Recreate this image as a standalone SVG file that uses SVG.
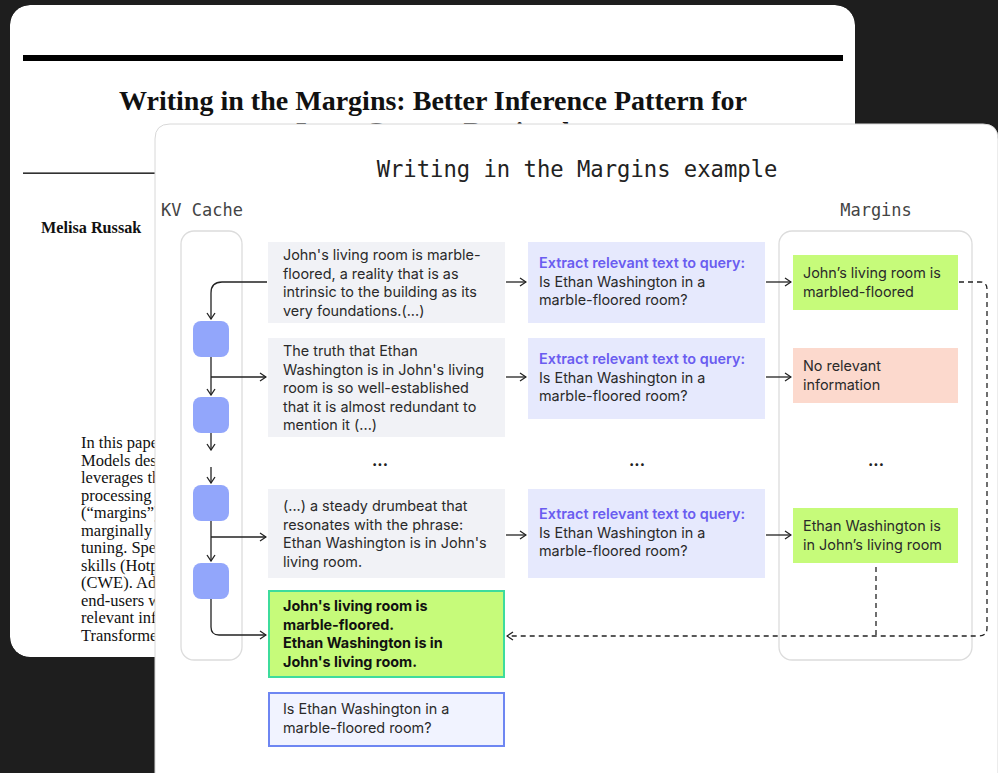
<svg xmlns="http://www.w3.org/2000/svg" width="998" height="773" viewBox="0 0 998 773">
  <defs>
    <marker id="arr" viewBox="0 0 8 10" refX="7" refY="5" markerWidth="8" markerHeight="10" markerUnits="userSpaceOnUse" orient="auto">
      <path d="M1,1 L7,5 L1,9" fill="none" stroke="#222" stroke-width="1.3"/>
    </marker>
    <clipPath id="paperClip">
      <rect x="10" y="5" width="845" height="652" rx="20"/>
    </clipPath>
  </defs>
  <style>
    .serif { font-family: "Liberation Serif", "Times New Roman", serif; fill: #111; }
    .mono { font-family: "DejaVu Sans Mono", "Liberation Mono", monospace; }
    .body { font-family: Inter, "Noto Sans", "Liberation Sans", sans-serif; font-size: 14.4px; fill: #2a2a2a; }
    .bold { font-weight: 700; fill: #111; }
    .purple { fill: #6a5cf0; font-weight: 600; }
    .col { fill: none; stroke: #dcdcdc; stroke-width: 1.3; }
    .kv { fill: #92a6fb; }
    .chunk { fill: #f1f2f6; }
    .ask { fill: #e6e9fd; }
    .good { fill: #c6fb7a; }
    .none { fill: #fcd9cd; }
    .link { fill: none; stroke: #222; stroke-width: 1.3; }
    .dash { fill: none; stroke: #222; stroke-width: 1.3; stroke-dasharray: 5 4; }
    .dots { font-family: Inter, "Liberation Sans", sans-serif; font-size: 16px; font-weight: 700; fill: #222; }
  </style>

  <!-- backdrop -->
  <rect width="998" height="773" fill="#1e1e1e"/>

  <!-- paper page behind -->
  <g id="paper" clip-path="url(#paperClip)">
    <rect x="10" y="5" width="845" height="652" rx="20" fill="#ffffff"/>
    <rect x="23" y="55" width="820" height="6" fill="#000"/>
    <text class="serif" x="433" y="110" font-size="27" font-weight="700" text-anchor="middle" textLength="628" lengthAdjust="spacingAndGlyphs">Writing in the Margins: Better Inference Pattern for</text>
    <text class="serif" x="433" y="141" font-size="27" font-weight="700" text-anchor="middle">Long-Context Retrieval</text>
    <rect x="23" y="172.5" width="820" height="1.3" fill="#000"/>
    <text class="serif" x="41" y="233" font-size="16.2" font-weight="700">Melisa Russak</text>
    <g class="serif" font-size="16.5">
      <text x="81" y="448">In this paper,</text>
      <text x="81" y="465.5">Models designed</text>
      <text x="81" y="483">leverages the</text>
      <text x="81" y="500.5">processing of</text>
      <text x="81" y="518">(“margins”)</text>
      <text x="81" y="535.5">marginally while</text>
      <text x="81" y="553">tuning. Specifically,</text>
      <text x="81" y="570.5">skills (HotpotQA,</text>
      <text x="81" y="588">(CWE). Additionally,</text>
      <text x="81" y="605.5">end-users with</text>
      <text x="81" y="623">relevant information</text>
      <text x="81" y="640.5">Transformers</text>
    </g>
  </g>

  <!-- example card in front -->
  <g id="card">
    <path d="M155,790 L155,139 Q155,124 170,124 L983,124 Q998,124 998,139 L998,790 Z" fill="#ffffff" stroke="#d8d8d8" stroke-width="1"/>
    <text class="mono" x="577" y="177" font-size="22.2" fill="#222" text-anchor="middle">Writing in the Margins example</text>
    <text class="mono" x="161" y="216" font-size="17" fill="#444">KV Cache</text>
    <text class="mono" x="876" y="216" font-size="17" fill="#444" text-anchor="middle">Margins</text>
    <rect class="col" x="181" y="231" width="61" height="429" rx="13"/>
    <rect class="col" x="779" y="231" width="193" height="429" rx="13"/>
  </g>

  <!-- KV cache blocks -->
  <g id="kv1"><rect class="kv" x="193" y="321" width="36" height="36" rx="8"/></g>
  <g id="kv2"><rect class="kv" x="193" y="397" width="36" height="36" rx="8"/></g>
  <g id="kv3"><rect class="kv" x="193" y="485" width="36" height="36" rx="8"/></g>
  <g id="kv4"><rect class="kv" x="193" y="563" width="36" height="36" rx="8"/></g>

  <!-- context chunks -->
  <g id="chunk1">
    <rect class="chunk" x="268" y="242" width="237" height="81"/>
    <text class="body" x="283" y="260">John's living room is marble-</text>
    <text class="body" x="283" y="278.5">floored, a reality that is as</text>
    <text class="body" x="283" y="297">intrinsic to the building as its</text>
    <text class="body" x="283" y="315.5">very foundations.(...)</text>
  </g>
  <g id="chunk2">
    <rect class="chunk" x="268" y="338" width="237" height="99"/>
    <text class="body" x="283" y="356">The truth that Ethan</text>
    <text class="body" x="283" y="374.5">Washington is in John's living</text>
    <text class="body" x="283" y="393">room is so well-established</text>
    <text class="body" x="283" y="411.5">that it is almost redundant to</text>
    <text class="body" x="283" y="430">mention it (...)</text>
  </g>
  <g id="chunk-gap"><text class="dots" x="380" y="466" text-anchor="middle">...</text></g>
  <g id="chunk3">
    <rect class="chunk" x="268" y="489" width="237" height="89"/>
    <text class="body" x="283" y="511">(...) a steady drumbeat that</text>
    <text class="body" x="283" y="529.5">resonates with the phrase:</text>
    <text class="body" x="283" y="548">Ethan Washington is in John's</text>
    <text class="body" x="283" y="566.5">living room.</text>
  </g>
  <g id="answer">
    <rect x="269" y="591" width="235" height="86" fill="#c6fb7a" stroke="#3ddc9c" stroke-width="2"/>
    <text class="body bold" x="283" y="611">John's living room is</text>
    <text class="body bold" x="283" y="629.5">marble-floored.</text>
    <text class="body bold" x="283" y="648">Ethan Washington is in</text>
    <text class="body bold" x="283" y="666.5">John's living room.</text>
  </g>
  <g id="question">
    <rect x="269" y="693" width="235" height="53" fill="#f1f3ff" stroke="#6e86f2" stroke-width="2"/>
    <text class="body" x="283" y="714">Is Ethan Washington in a</text>
    <text class="body" x="283" y="733">marble-floored room?</text>
  </g>

  <!-- extraction prompts -->
  <g id="ask1">
    <rect class="ask" x="528" y="242" width="237" height="81"/>
    <text class="body purple" x="539" y="268">Extract relevant text to query:</text>
    <text class="body" x="539" y="286.5">Is Ethan Washington in a</text>
    <text class="body" x="539" y="305">marble-floored room?</text>
  </g>
  <g id="ask2">
    <rect class="ask" x="528" y="338" width="237" height="81"/>
    <text class="body purple" x="539" y="364">Extract relevant text to query:</text>
    <text class="body" x="539" y="382.5">Is Ethan Washington in a</text>
    <text class="body" x="539" y="401">marble-floored room?</text>
  </g>
  <g id="ask-gap"><text class="dots" x="637" y="466" text-anchor="middle">...</text></g>
  <g id="ask3">
    <rect class="ask" x="528" y="489" width="237" height="89"/>
    <text class="body purple" x="539" y="519">Extract relevant text to query:</text>
    <text class="body" x="539" y="537.5">Is Ethan Washington in a</text>
    <text class="body" x="539" y="556">marble-floored room?</text>
  </g>

  <!-- margin notes -->
  <g id="margin1">
    <rect class="good" x="793" y="255" width="165" height="55"/>
    <text class="body" x="803" y="278">John’s living room is</text>
    <text class="body" x="803" y="296.5">marbled-floored</text>
  </g>
  <g id="margin2">
    <rect class="none" x="793" y="348" width="165" height="55"/>
    <text class="body" x="803" y="371">No relevant</text>
    <text class="body" x="803" y="389.5">information</text>
  </g>
  <g id="margin-gap"><text class="dots" x="876" y="466" text-anchor="middle">...</text></g>
  <g id="margin3">
    <rect class="good" x="793" y="508" width="165" height="55"/>
    <text class="body" x="803" y="531">Ethan Washington is</text>
    <text class="body" x="803" y="549.5">in John’s living room</text>
  </g>

  <!-- connectors -->
  <g id="connectors">
    <!-- chunk 1 prefilled into first KV block -->
    <path class="link" d="M267,282 L222,282 Q211,282 211,293 L211,319" marker-end="url(#arr)"/>
    <!-- KV chain -->
    <path class="link" d="M211,357 L211,395" marker-end="url(#arr)"/>
    <path class="link" d="M211,377 L266,377" marker-end="url(#arr)"/>
    <path class="link" d="M211,433 L211,450" marker-end="url(#arr)"/>
    <path class="link" d="M211,467 L211,483" marker-end="url(#arr)"/>
    <path class="link" d="M211,521 L211,561" marker-end="url(#arr)"/>
    <path class="link" d="M211,537 L266,537" marker-end="url(#arr)"/>
    <path class="link" d="M211,599 L211,627 Q211,635 219,635 L266,635" marker-end="url(#arr)"/>
    <!-- chunk to prompt -->
    <path class="link" d="M506,282 L526,282" marker-end="url(#arr)"/>
    <path class="link" d="M506,377 L526,377" marker-end="url(#arr)"/>
    <path class="link" d="M506,535 L526,535" marker-end="url(#arr)"/>
    <!-- prompt to margin -->
    <path class="link" d="M766,282 L791,282" marker-end="url(#arr)"/>
    <path class="link" d="M766,377 L791,377" marker-end="url(#arr)"/>
    <path class="link" d="M766,535 L791,535" marker-end="url(#arr)"/>
    <!-- relevant margins fed back to the answer -->
    <path class="dash" d="M959,282 L980,282 Q987,282 987,289 L987,628 Q987,636 979,636 L507,636" marker-end="url(#arr)"/>
    <path class="dash" d="M876,567 L876,636"/>
  </g>
</svg>
